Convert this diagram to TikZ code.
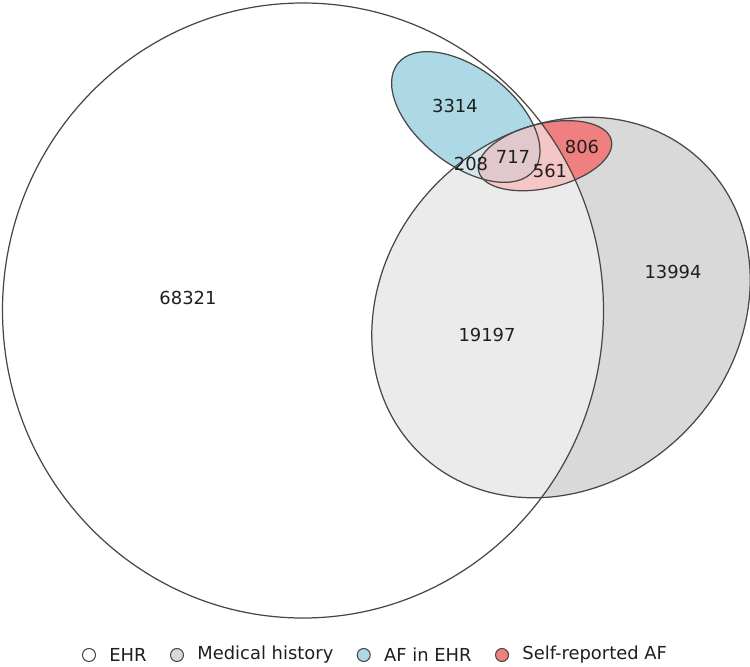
\documentclass[tikz,border=0pt]{standalone}
\usepackage{fontspec}
\setmainfont{DejaVu Sans}
\usetikzlibrary{positioning}
\usepackage{xcolor}

\definecolor{mhgray}{RGB}{217,217,217}
\definecolor{mhlight}{RGB}{235,235,235}
\definecolor{afblue}{RGB}{173,216,230}
\definecolor{afmix}{RGB}{213,229,235}
\definecolor{srred}{RGB}{240,128,128}
\definecolor{srlight}{RGB}{244,198,198}
\definecolor{srmix}{RGB}{224,200,205}

% contornos dos conjuntos
\newcommand{\ehrpath}{(303,-310.5) circle [x radius=300.5, y radius=307.5]}
\newcommand{\medpath}{(561,-307.5) circle [x radius=203, y radius=175.5, rotate=46.1]}
\newcommand{\afehrpath}{(465.8,-117) circle [x radius=86.5, y radius=47.9, rotate=-38.1]}
\newcommand{\selfpath}{(545,-155.7) circle [x radius=68.1, y radius=32.3, rotate=13.1]}

\begin{document}
\begin{tikzpicture}[
            x=0.02cm, y=0.02cm,
            font=\fontsize{10.2}{12}\selectfont,
            setline/.style={draw=black!72, line width=0.7pt},
            count/.style={inner sep=0pt, text=black!88},
            legdot/.style={circle, draw=black!72, line width=0.6pt, minimum size=0.26cm, inner sep=0pt},
            legtext/.style={inner sep=0pt, text=black!88}
        ]
            \useasboundingbox (0,0) rectangle (750,-666);

            % --- EHR e historico medico ---
            \fill[white] \ehrpath;
            \fill[mhgray] \medpath;
            \begin{scope}
                \clip \ehrpath;
                \fill[mhlight] \medpath;
            \end{scope}

            % --- AF no EHR ---
            \fill[afblue] \afehrpath;
            \begin{scope}
                \clip \medpath;
                \fill[afmix] \afehrpath;
            \end{scope}

            % --- AF auto-relatado ---
            \fill[srred] \selfpath;
            \begin{scope}
                \clip \ehrpath;
                \fill[srlight] \selfpath;
                \clip \afehrpath;
                \fill[srmix] \selfpath;
            \end{scope}

            % contornos
            \draw[setline] \ehrpath;
            \draw[setline] \medpath;
            \draw[setline] \afehrpath;
            \draw[setline] \selfpath;

            % --- contagens ---
            \node[count] (nEHR) at (188,-298) {68321};
            \node[count] (nBoth) at (487,-335) {19197};
            \node[count] (nMed) at (673,-272) {13994};
            \node[count] (nAF) at (455,-106) {3314};
            \node[count] (nAFMed) at (471,-164) {208};
            \node[count] (nAll) at (513,-157) {717};
            \node[count] (nSRBoth) at (550,-171) {561};
            \node[count] (nSRMed) at (582,-147) {806};

            % --- legenda ---
            \node[legdot, fill=white] (dotEHR) at (89,-655) {};
            \node[legtext, right=0.26cm of dotEHR] (txtEHR) {EHR};
            \node[legdot, fill=mhgray, right=0.46cm of txtEHR] (dotMed) {};
            \node[legtext, right=0.26cm of dotMed] (txtMed) {Medical history};
            \node[legdot, fill=afblue, right=0.46cm of txtMed] (dotAF) {};
            \node[legtext, right=0.26cm of dotAF] (txtAF) {AF in EHR};
            \node[legdot, fill=srred, right=0.46cm of txtAF] (dotSR) {};
            \node[legtext, right=0.26cm of dotSR] (txtSR) {Self-reported AF};

        \end{tikzpicture}
\end{document}
